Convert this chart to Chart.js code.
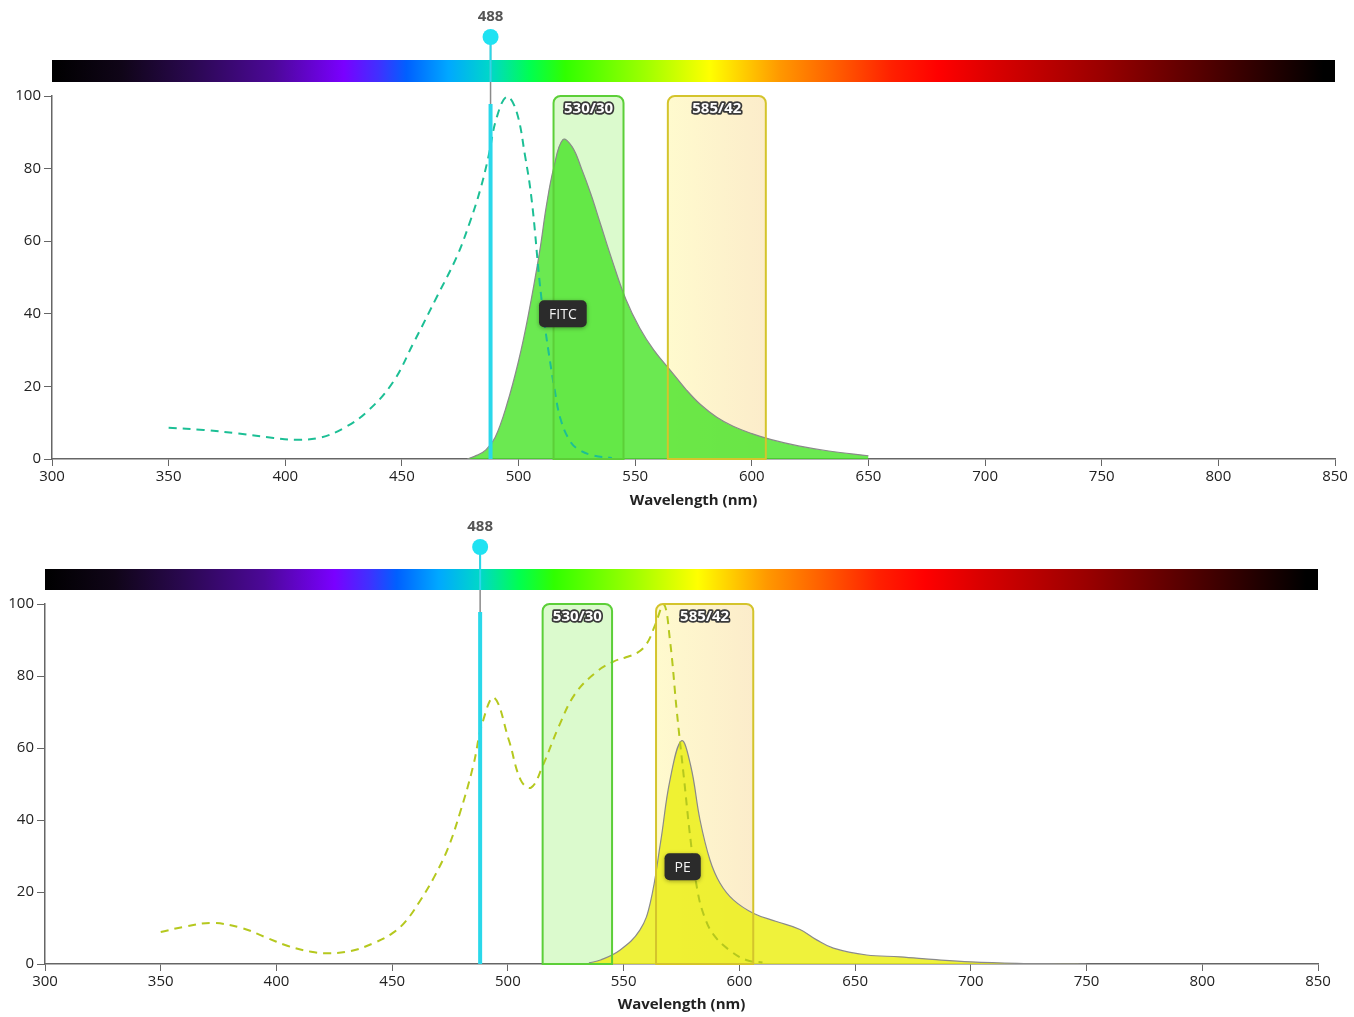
<!DOCTYPE html>
<html>
<head>
<meta charset="utf-8">
<script src="https://cdn.jsdelivr.net/npm/chart.js@4.4.1/dist/chart.umd.min.js"></script>
<style>
  body { margin: 0; background: #fff; width: 1354px; height: 1017px; overflow: hidden; }
  .panel { position: absolute; left: 0; width: 1354px; }
  canvas { display: block; }
</style>
</head>
<body>
<div class="panel" style="top:0;height:510px"><canvas id="fitcChart" width="1354" height="510"></canvas></div>
<div class="panel" style="top:510px;height:507px"><canvas id="peChart" width="1354" height="507"></canvas></div>
<script>
// FITC excitation / emission (nm, % intensity)
const fitcExNm  = [350, 365, 380, 395, 405, 415, 425, 435, 446, 455, 465, 473.5, 479, 483.5, 487, 490.6, 495, 499, 502.8, 505.7, 509, 511, 513, 515.5, 518, 522, 526, 532, 540];
const fitcExVal = [8.6, 8.0, 7.0, 5.8, 5.3, 5.9, 8.5, 13, 21, 32, 44.7, 55.7, 65, 74, 83, 94, 99.8, 96, 83.5, 71, 49, 38, 29, 19, 11, 5, 2.5, 1, 0.3];
const fitcEmNm  = [478, 482, 486, 490, 495, 500, 504, 509, 512, 515, 519, 523, 527, 531, 535, 540, 546, 552, 558, 565, 572, 578, 585, 592, 600, 608, 620, 633, 650];
const fitcEmVal = [0, 1, 2.5, 6, 15, 27, 39, 57, 70, 80, 88, 86, 80, 73, 65, 55, 44, 36, 30, 24.5, 19, 15, 11.5, 9, 7, 5.4, 3.6, 2.2, 0.9];

// PE excitation / emission
const peExNm  = [350, 360, 372, 385, 395, 405, 415, 422, 432, 442, 450, 456, 462, 468, 474, 479.3, 485, 489, 494, 500.5, 505.6, 510, 515, 522, 529, 538, 545.6, 551, 556, 560, 563.5, 567.3, 570, 573, 576, 579, 582, 585, 589, 595.6, 603, 610];
const peExVal = [8.9, 10.3, 11.4, 10, 7.5, 5.0, 3.4, 3.0, 3.6, 5.8, 8.5, 12, 17.5, 24, 32, 42, 55, 67, 74, 62, 51, 49, 55, 66, 75, 81, 84, 85.2, 86.5, 89, 94, 100, 90, 70, 52, 34, 20, 13, 8, 3.9, 1.1, 0.4];
const peEmNm  = [535, 540, 548.5, 557, 561.5, 566, 570, 575, 579, 583, 587.3, 591.6, 597.4, 606, 616, 626.2, 633.4, 640.6, 655, 669.4, 685, 700, 720, 740, 750];
const peEmVal = [0.3, 1.1, 3.9, 9.4, 17, 34, 51, 62, 55, 40, 28.9, 22.5, 17.8, 14.1, 11.8, 9.6, 6.7, 4.4, 2.5, 2.0, 1.2, 0.6, 0.2, 0.05, 0];

// filters and laser
const filterNames   = ['530/30', '585/42'];
const filterCenters = [530, 585];
const filterWidths  = [30, 42];
const laserNm = 488;

// visible spectrum bar stops
const spectrumNm     = [300, 330, 360, 395, 425, 440, 452, 470, 488, 505, 520, 555, 582, 612, 635, 660, 680, 705, 750, 790, 825, 845, 850];
const spectrumColors = ['#000000', '#100518', '#2a0850', '#4c0898', '#7a00ff', '#4030ff', '#0060ff', '#00a8ff', '#00d8c8', '#00ff50', '#30ff00', '#a0ff00', '#ffff00', '#ff9800', '#ff6000', '#ff2000', '#ff0000', '#d80000', '#9a0000', '#5a0000', '#200000', '#000000', '#000000'];

const xTicks = [300, 350, 400, 450, 500, 550, 600, 650, 700, 750, 800, 850];
const yTicks = [0, 20, 40, 60, 80, 100];

Chart.defaults.font.family = '"Open Sans", "Noto Sans", sans-serif';
Chart.defaults.color = '#222';

function toPoints(xs, ys) {
    return xs.map((x, i) => ({ x: x, y: ys[i] }));
}

const filterFill   = ['rgba(175, 245, 145, 0.45)', ['rgba(255, 248, 185, 0.7)', 'rgba(250, 228, 180, 0.7)']];
const filterBorder = ['#5ccf38', '#d4c42c'];

const overlayPlugin = {
    id: 'overlay',
    beforeDatasetsDraw(chart, args, opts) {
        const ctx = chart.ctx;
        const x = chart.scales.x;
        const y = chart.scales.y;

        // spectrum bar
        const grad = ctx.createLinearGradient(x.left, 0, x.right, 0);
        spectrumNm.forEach((nm, i) => {
            grad.addColorStop((nm - x.min) / (x.max - x.min), spectrumColors[i]);
        });
        ctx.save();
        ctx.fillStyle = grad;
        ctx.fillRect(x.left, opts.barTop, x.right - x.left, opts.barHeight);

        // filter fills (behind the curves)
        filterNames.forEach((name, i) => {
            const x0 = x.getPixelForValue(filterCenters[i] - filterWidths[i] / 2);
            const x1 = x.getPixelForValue(filterCenters[i] + filterWidths[i] / 2);
            const top = y.getPixelForValue(100);
            const bottom = y.getPixelForValue(0);
            let fill = filterFill[i];
            if (Array.isArray(fill)) {
                const g = ctx.createLinearGradient(x0, 0, x1, 0);
                g.addColorStop(0, fill[0]);
                g.addColorStop(1, fill[1]);
                fill = g;
            }
            ctx.fillStyle = fill;
            ctx.beginPath();
            ctx.roundRect(x0, top, x1 - x0, bottom - top, [7, 7, 0, 0]);
            ctx.fill();
        });
        ctx.restore();
    },
    afterDatasetsDraw(chart, args, opts) {
        const ctx = chart.ctx;
        const x = chart.scales.x;
        const y = chart.scales.y;
        ctx.save();

        // filter borders + names
        filterNames.forEach((name, i) => {
            const x0 = x.getPixelForValue(filterCenters[i] - filterWidths[i] / 2);
            const x1 = x.getPixelForValue(filterCenters[i] + filterWidths[i] / 2);
            const top = y.getPixelForValue(100);
            const bottom = y.getPixelForValue(0);
            ctx.strokeStyle = filterBorder[i];
            ctx.lineWidth = 2;
            ctx.beginPath();
            ctx.roundRect(x0, top, x1 - x0, bottom - top, [7, 7, 0, 0]);
            ctx.stroke();

            ctx.font = 'bold 15px "Open Sans", sans-serif';
            ctx.textAlign = 'center';
            ctx.textBaseline = 'middle';
            ctx.lineJoin = 'round';
            ctx.lineWidth = 3.5;
            ctx.strokeStyle = '#3a3a3a';
            ctx.strokeText(name, (x0 + x1) / 2, top + 13);
            ctx.fillStyle = '#ffffff';
            ctx.fillText(name, (x0 + x1) / 2, top + 13);
        });

        // laser line
        const lx = x.getPixelForValue(laserNm);
        ctx.strokeStyle = '#8a8a8a';
        ctx.lineWidth = 1.5;
        ctx.beginPath();
        ctx.moveTo(lx, opts.laserY);
        ctx.lineTo(lx, y.bottom);
        ctx.stroke();
        ctx.strokeStyle = '#2ad8ea';
        ctx.lineWidth = 2;
        ctx.beginPath();
        ctx.moveTo(lx, opts.laserY);
        ctx.lineTo(lx, opts.barTop + opts.barHeight);
        ctx.stroke();
        ctx.lineWidth = 4;
        ctx.beginPath();
        ctx.moveTo(lx, y.top + 8);
        ctx.lineTo(lx, y.bottom);
        ctx.stroke();
        ctx.fillStyle = '#1fe2f2';
        ctx.beginPath();
        ctx.arc(lx, opts.laserY, 8, 0, Math.PI * 2);
        ctx.fill();
        ctx.fillStyle = '#555';
        ctx.font = 'bold 15px "Open Sans", sans-serif';
        ctx.textAlign = 'center';
        ctx.textBaseline = 'middle';
        ctx.fillText(String(laserNm), lx, opts.laserY - 20);

        // dye label
        const dx = x.getPixelForValue(opts.dyeNm);
        const dy = y.getPixelForValue(opts.dyeVal);
        ctx.font = '14px "Open Sans", sans-serif';
        const w = ctx.measureText(opts.dye).width + 20;
        ctx.shadowColor = 'rgba(0,0,0,0.35)';
        ctx.shadowBlur = 4;
        ctx.shadowOffsetY = 1;
        ctx.fillStyle = '#2b2b2b';
        ctx.beginPath();
        ctx.roundRect(dx - w / 2, dy - 13.5, w, 27, 5);
        ctx.fill();
        ctx.shadowColor = 'transparent';
        ctx.fillStyle = '#f4f4f4';
        ctx.fillText(opts.dye, dx, dy + 1);
        ctx.restore();
    }
};

function makeChart(id, exPts, emPts, exColor, emColor, layout) {
    const ctx = document.getElementById(id).getContext('2d');
    return new Chart(ctx, {
        type: 'line',
        data: {
            datasets: [{
                label: 'Excitation',
                data: exPts,
                borderColor: exColor,
                borderWidth: 2,
                borderDash: [8, 6],
                pointRadius: 0,
                fill: false,
                tension: 0.4
            }, {
                label: 'Emission',
                data: emPts,
                borderColor: '#8a8a8a',
                borderWidth: 1.2,
                backgroundColor: emColor,
                pointRadius: 0,
                fill: 'origin',
                tension: 0.4
            }]
        },
        options: {
            responsive: false,
            animation: false,
            layout: { padding: { top: layout.plotTop, right: layout.right, left: 0, bottom: 0 } },
            plugins: {
                legend: { display: false },
                tooltip: { enabled: false },
                overlay: layout
            },
            scales: {
                x: {
                    type: 'linear',
                    min: 300,
                    max: 850,
                    afterBuildTicks: (scale) => { scale.ticks = xTicks.map(v => ({ value: v })); },
                    afterFit: (scale) => { scale.height = layout.xHeight; },
                    border: { display: true, color: '#666', width: 1.5 },
                    grid: { drawOnChartArea: false, drawTicks: true, tickLength: 7, color: '#666' },
                    ticks: { padding: 2, font: { size: 15 }, color: '#222' },
                    title: {
                        display: true,
                        text: 'Wavelength (nm)',
                        font: { size: 15, weight: 'bold' },
                        color: '#222',
                        padding: { top: 0, bottom: layout.titlePad }
                    }
                },
                y: {
                    min: 0,
                    max: 100,
                    afterBuildTicks: (scale) => { scale.ticks = yTicks.map(v => ({ value: v })); },
                    afterFit: (scale) => { scale.width = layout.yWidth; },
                    border: { display: true, color: '#666', width: 1.5 },
                    grid: { drawOnChartArea: false, drawTicks: true, tickLength: 8, color: '#666' },
                    ticks: { padding: 3, font: { size: 15 }, color: '#222' }
                }
            }
        },
        plugins: [overlayPlugin]
    });
}

makeChart('fitcChart',
    toPoints(fitcExNm, fitcExVal),
    toPoints(fitcEmNm, fitcEmVal),
    '#1cbf95', 'rgba(70, 228, 38, 0.8)',
    { plotTop: 96, right: 19, yWidth: 52, xHeight: 51, titlePad: 0,
      barTop: 60, barHeight: 22, laserY: 37, dye: 'FITC', dyeNm: 519, dyeVal: 40 });

makeChart('peChart',
    toPoints(peExNm, peExVal),
    toPoints(peEmNm, peEmVal),
    '#b5c81e', 'rgba(236, 240, 25, 0.85)',
    { plotTop: 94, right: 36, yWidth: 45, xHeight: 53, titlePad: 3,
      barTop: 59, barHeight: 21, laserY: 37, dye: 'PE', dyeNm: 575.5, dyeVal: 27 });
</script>
</body>
</html>
